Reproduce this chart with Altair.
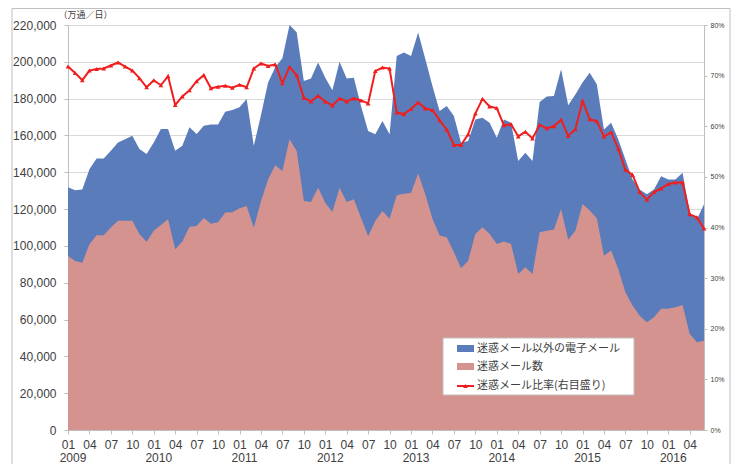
import altair as alt
import pandas as pd

years = list(range(2009, 2017))
months = [f"{y}-{m:02d}" for y in years for m in range(1, 13)][:90]
year_labels = [str(y) for y in years]
year_months = [f"{y}-01" for y in years]

# total e-mail (top of blue area), 万通/日
total = [131800, 130300, 130600, 141700, 147500, 147500, 151700, 156200, 158000, 159800,
         152600, 149900, 156200, 163500, 163500, 151700, 154400, 164400, 160800, 165300,
         166000, 166000, 172900, 173800, 175300, 179800, 154400, 171000, 188800, 197000,
         202000, 220000, 216000, 189600, 190900, 199600, 191400, 184500, 200100, 190900,
         191400, 176000, 162400, 160600, 167800, 160600, 203200, 205000, 203200, 215900,
         201500, 186900, 173300, 176000, 170600, 156100, 157000, 168700, 169600, 166900,
         158800, 168700, 166900, 146100, 150600, 146100, 178200, 181200, 181400, 195900,
         176400, 182300, 188700, 194100, 187800, 163300, 166900, 157900, 147000, 136100,
         130700, 128000, 130700, 137900, 136100, 136100, 139800, 118000, 114400, 122600]

# spam e-mail (pink area)
spam = [94500, 91800, 90900, 100900, 105800, 105800, 110000, 113600, 113600, 113600,
        106400, 102200, 108200, 111300, 114500, 98200, 102400, 110400, 110800, 115100,
        112100, 112800, 118100, 118300, 120400, 121700, 109900, 124300, 136100, 143800,
        140700, 157900, 151600, 124400, 123900, 131600, 123500, 118400, 131600, 123900,
        125300, 115300, 105300, 113500, 119000, 114700, 127500, 128400, 128800, 139400,
        128000, 114700, 105600, 104700, 96600, 87900, 92000, 106500, 110200, 106500,
        101100, 102400, 101100, 84800, 88400, 84800, 107400, 108300, 108900, 120100,
        103400, 108300, 122800, 119200, 115000, 94700, 97500, 87500, 74800, 67600,
        62100, 58500, 61200, 65800, 65800, 66700, 67900, 52200, 47700, 48500]

# spam ratio (%), right axis
ratio = [71.8, 70.5, 69.1, 71.0, 71.3, 71.4, 72.0, 72.6, 71.8, 71.0,
         69.5, 67.7, 69.1, 68.1, 69.9, 64.2, 65.9, 67.1, 68.9, 70.1,
         67.5, 67.8, 68.0, 67.6, 68.2, 67.7, 71.4, 72.4, 71.9, 72.2,
         68.5, 71.7, 70.1, 65.6, 64.9, 66.0, 64.9, 64.1, 65.5, 64.9,
         65.5, 65.1, 64.5, 70.9, 71.6, 71.4, 62.7, 62.4, 63.4, 64.7,
         63.5, 63.2, 61.2, 59.3, 56.3, 56.3, 58.4, 62.5, 65.4, 63.9,
         63.6, 60.2, 60.4, 58.0, 58.9, 57.6, 60.3, 59.6, 60.0, 61.3,
         58.1, 59.4, 65.0, 61.4, 61.0, 58.0, 58.8, 55.6, 51.4, 50.4,
         47.0, 45.5, 47.0, 47.7, 48.6, 48.9, 48.9, 42.6, 42.0, 39.8]

legend_labels = ["迷惑メール以外の電子メール", "迷惑メール数", "迷惑メール比率(右目盛り)"]
left_ticks = list(range(0, 220001, 20000))
right_ticks = list(range(0, 81, 10))
tick_months = months[::3]

BLUE = "#5B7CBB"
PINK = "#D4938F"
RED = "#F01E1E"
TXT = "#404040"
GRID = "#D9D9D9"
AX = "#BFBFBF"
NUMFONT = "Liberation Sans"
JPFONT = "Noto Sans CJK JP"

df = pd.DataFrame({"month": months, "total": total, "spam": spam, "ratio": ratio})
ydf = pd.DataFrame({"month": year_months, "label": year_labels})

W, H = 636, 405

xscale = alt.Scale(type="point", padding=0, domain=months)
xenc = alt.X(
    "month:O", sort=None, scale=xscale,
    axis=alt.Axis(
        values=tick_months, title=None, labelAngle=0, grid=False,
        labelExpr="substring(datum.value,5,7)",
        labelFont=NUMFONT, labelFontSize=12, labelColor=TXT,
        labelOverlap=False, labelPadding=5, tickSize=4, tickColor=AX, domainColor=AX,
    ),
)

yscale = alt.Scale(domain=[0, 220000], nice=False, zero=True)
rscale = alt.Scale(domain=[0, 80], nice=False, zero=True)

blue = alt.Chart(df).mark_area(color=BLUE, opacity=1, interpolate="linear").encode(
    x=xenc,
    y=alt.Y("total:Q", scale=yscale, axis=alt.Axis(
        orient="left", values=left_ticks, format=",d", grid=True, gridColor=GRID, gridWidth=1,
        title="（万通／日）", titleAngle=0, titleX=-10, titleY=-11, titleAlign="left",
        titleBaseline="middle", titleFont=JPFONT, titleFontSize=9, titleFontWeight="normal",
        titleColor=TXT, labelFont=NUMFONT, labelFontSize=12, labelColor=TXT,
        tickSize=4, tickColor=AX, domainColor=AX, labelPadding=8)),
)
pink = alt.Chart(df).mark_area(color=PINK, opacity=1, interpolate="linear").encode(
    x=xenc,
    y=alt.Y("spam:Q", scale=yscale, axis=None),
)
line = alt.Chart(df).mark_line(color=RED, strokeWidth=2).encode(
    x=xenc,
    y=alt.Y("ratio:Q", scale=rscale, axis=alt.Axis(
        orient="right", values=right_ticks, labelExpr="datum.value + '%'", title=None,
        grid=False, labelFont=NUMFONT, labelFontSize=7, labelColor=TXT,
        tickSize=3, tickColor=AX, domainColor=AX, labelPadding=3)),
)
pts = alt.Chart(df).mark_point(shape="triangle-up", filled=True, color=RED, size=22, opacity=1).encode(
    x=xenc,
    y=alt.Y("ratio:Q", scale=rscale, axis=None),
)

# year row under the month labels
yrs = alt.Chart(ydf).mark_text(font=NUMFONT, fontSize=12, color=TXT, baseline="middle",
                               align="center", dx=5).encode(
    x=xenc,
    y=alt.value(H + 28),
    text="label:N",
)

one = alt.Data(values=[{"a": 1}])
# legend box drawn by hand (pixel offsets inside the plot area)
lg_box = alt.Chart(one).mark_rect(fill="white", stroke=AX, strokeWidth=1).encode(
    x=alt.value(375), x2=alt.value(566), y=alt.value(313), y2=alt.value(370))
lg_blue = alt.Chart(one).mark_rect(fill=BLUE).encode(
    x=alt.value(389), x2=alt.value(406), y=alt.value(320), y2=alt.value(327))
lg_pink = alt.Chart(one).mark_rect(fill=PINK).encode(
    x=alt.value(389), x2=alt.value(406), y=alt.value(338), y2=alt.value(345))
lg_line = alt.Chart(one).mark_rule(color=RED, strokeWidth=2).encode(
    x=alt.value(389), x2=alt.value(406), y=alt.value(361))
lg_tri = alt.Chart(one).mark_point(shape="triangle-up", filled=True, color=RED, size=22, opacity=1).encode(
    x=alt.value(397.5), y=alt.value(361))
lg_text = [
    alt.Chart(one).mark_text(align="left", baseline="middle", font=JPFONT, fontSize=11, color=TXT,
                             text=lab).encode(x=alt.value(409), y=alt.value(yy))
    for lab, yy in zip(legend_labels, [323.5, 341.5, 361])
]

# outer chart frame (left, top, right edges)
frame_l = alt.Chart(one).mark_rule(color=AX, strokeWidth=1).encode(
    x=alt.value(-56), y=alt.value(-16.5), y2=alt.value(445))
frame_t = alt.Chart(one).mark_rule(color=AX, strokeWidth=1).encode(
    x=alt.value(-56), x2=alt.value(662), y=alt.value(-16.5))
frame_r = alt.Chart(one).mark_rule(color=AX, strokeWidth=1).encode(
    x=alt.value(662), y=alt.value(-16.5), y2=alt.value(445))

chart = alt.layer(
    blue, pink, line, pts, yrs, frame_l, frame_t, frame_r,
    lg_box, lg_blue, lg_pink, lg_line, lg_tri, *lg_text
).resolve_scale(y="independent").properties(
    width=W, height=H,
    padding={"left": 60, "top": 17, "right": 27, "bottom": 34},
    autosize="none",
).configure_view(stroke=None).configure(background="white")

chart.save("out.html", embed_options={"renderer": "svg", "actions": False})
